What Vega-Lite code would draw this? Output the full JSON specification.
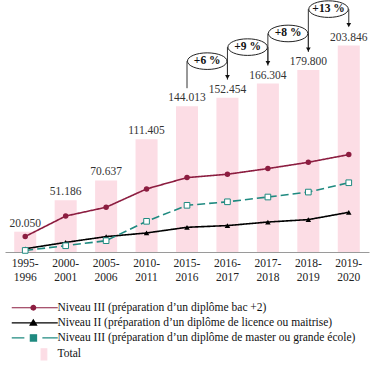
{
  "$schema": "https://vega.github.io/schema/vega-lite/v6.json",
  "width": 364,
  "height": 252,
  "autosize": {"type": "none"},
  "padding": {"left": 5, "top": 0, "right": 11, "bottom": 116},
  "background": "white",
  "config": {
    "view": {"stroke": null},
    "locale": {"number": {"decimal": ",", "thousands": ".", "grouping": [3], "currency": ["", " €"]}},
    "font": "Liberation Serif",
    "legend": {
      "orient": "none", "legendX": 24, "legendY": 302, "direction": "vertical",
      "symbolSize": 64, "symbolStrokeWidth": 1.2, "labelOffset": 17, "labelFont": "Liberation Serif", "labelFontSize": 11.5,
      "labelColor": "#111", "labelLimit": 400, "rowPadding": 2.1, "padding": 0
    }
  },
  "datasets": {
    "totals": [
      {"period": "1995-1996", "total": 20050},
      {"period": "2000-2001", "total": 51186},
      {"period": "2005-2006", "total": 70637},
      {"period": "2010-2011", "total": 111405},
      {"period": "2015-2016", "total": 144013},
      {"period": "2016-2017", "total": 152454},
      {"period": "2017-2018", "total": 166304},
      {"period": "2018-2019", "total": 179800},
      {"period": "2019-2020", "total": 203846}
    ],
    "series": [
      {"period": "1995-1996", "serie": "Niveau III (préparation d’un diplôme bac +2)", "value": 15300},
      {"period": "2000-2001", "serie": "Niveau III (préparation d’un diplôme bac +2)", "value": 35500},
      {"period": "2005-2006", "serie": "Niveau III (préparation d’un diplôme bac +2)", "value": 44200},
      {"period": "2010-2011", "serie": "Niveau III (préparation d’un diplôme bac +2)", "value": 62300},
      {"period": "2015-2016", "serie": "Niveau III (préparation d’un diplôme bac +2)", "value": 73500},
      {"period": "2016-2017", "serie": "Niveau III (préparation d’un diplôme bac +2)", "value": 76800},
      {"period": "2017-2018", "serie": "Niveau III (préparation d’un diplôme bac +2)", "value": 82400},
      {"period": "2018-2019", "serie": "Niveau III (préparation d’un diplôme bac +2)", "value": 88600},
      {"period": "2019-2020", "serie": "Niveau III (préparation d’un diplôme bac +2)", "value": 96200},
      {"period": "1995-1996", "serie": "Niveau II (préparation d’un diplôme de licence ou maitrise)", "value": 3200},
      {"period": "2000-2001", "serie": "Niveau II (préparation d’un diplôme de licence ou maitrise)", "value": 9500},
      {"period": "2005-2006", "serie": "Niveau II (préparation d’un diplôme de licence ou maitrise)", "value": 15200},
      {"period": "2010-2011", "serie": "Niveau II (préparation d’un diplôme de licence ou maitrise)", "value": 18800},
      {"period": "2015-2016", "serie": "Niveau II (préparation d’un diplôme de licence ou maitrise)", "value": 24400},
      {"period": "2016-2017", "serie": "Niveau II (préparation d’un diplôme de licence ou maitrise)", "value": 26100},
      {"period": "2017-2018", "serie": "Niveau II (préparation d’un diplôme de licence ou maitrise)", "value": 29600},
      {"period": "2018-2019", "serie": "Niveau II (préparation d’un diplôme de licence ou maitrise)", "value": 32000},
      {"period": "2019-2020", "serie": "Niveau II (préparation d’un diplôme de licence ou maitrise)", "value": 39200},
      {"period": "1995-1996", "serie": "Niveau III (préparation d’un diplôme de master ou grande école)", "value": 1550},
      {"period": "2000-2001", "serie": "Niveau III (préparation d’un diplôme de master ou grande école)", "value": 6200},
      {"period": "2005-2006", "serie": "Niveau III (préparation d’un diplôme de master ou grande école)", "value": 11200},
      {"period": "2010-2011", "serie": "Niveau III (préparation d’un diplôme de master ou grande école)", "value": 30300},
      {"period": "2015-2016", "serie": "Niveau III (préparation d’un diplôme de master ou grande école)", "value": 46100},
      {"period": "2016-2017", "serie": "Niveau III (préparation d’un diplôme de master ou grande école)", "value": 49600},
      {"period": "2017-2018", "serie": "Niveau III (préparation d’un diplôme de master ou grande école)", "value": 54300},
      {"period": "2018-2019", "serie": "Niveau III (préparation d’un diplôme de master ou grande école)", "value": 59200},
      {"period": "2019-2020", "serie": "Niveau III (préparation d’un diplôme de master ou grande école)", "value": 68400}
    ],
    "ann": [
      {"from": "2015-2016", "to": "2016-2017", "from_total": 144013, "to_total": 152454, "label": "+6 %"},
      {"from": "2016-2017", "to": "2017-2018", "from_total": 152454, "to_total": 166304, "label": "+9 %"},
      {"from": "2017-2018", "to": "2018-2019", "from_total": 166304, "to_total": 179800, "label": "+8 %"},
      {"from": "2018-2019", "to": "2019-2020", "from_total": 179800, "to_total": 203846, "label": "+13 %"}
    ]
  },
  "layer": [
    {
      "data": {"name": "totals"},
      "mark": {"type": "bar", "color": "#fcdde5"},
      "encoding": {
        "x": {
          "field": "period", "type": "nominal", "title": null,
          "scale": {
            "domain": ["1995-1996", "2000-2001", "2005-2006", "2010-2011", "2015-2016", "2016-2017", "2017-2018", "2018-2019", "2019-2020"],
            "paddingInner": 0.455, "paddingOuter": 0.2275
          },
          "axis": {
            "labelAngle": 0, "ticks": false, "labelPadding": 5.5,
            "labelExpr": "[slice(datum.label, 0, 5), slice(datum.label, 5)]",
            "labelLineHeight": 13.5, "labelFont": "Liberation Serif", "labelFontSize": 11.5,
            "labelColor": "#222", "domainColor": "#9a9a9a", "domainWidth": 1, "grid": false
          }
        },
        "y": {"field": "total", "type": "quantitative", "scale": {"domain": [0, 248900], "nice": false, "zero": true}, "axis": null},
        "color": {
          "datum": "Total", "type": "nominal",
          "scale": {
            "domain": ["Niveau III (préparation d’un diplôme bac +2)", "Niveau II (préparation d’un diplôme de licence ou maitrise)", "Niveau III (préparation d’un diplôme de master ou grande école)", "Total"],
            "range": ["#8c1d40", "#000000", "#1f8a80", "#fcdde5"]
          },
          "legend": {
            "title": null,
            "encode": {
              "symbols": {
                "update": {
                  "shape": {"signal": "test(/bac/, datum.value) ? 'M-5.75,0H5.75M0.23,0A0.58,0.58,0,1,1,-0.93,0A0.58,0.58,0,1,1,0.23,0Z' : test(/licence/, datum.value) ? 'M-5.75,0H5.75M-0.35,-0.75L0.45,0.55L-1.15,0.55Z' : test(/master/, datum.value) ? 'M-5.75,0H-2.59M1.9,0H5.75M-1.1,-0.78H0.45V0.78H-1.1Z' : 'M1.6,-1.32H3V1.44H1.6Z'"},
                  "fill": {"signal": "test(/bac/, datum.value) ? '#8c1d40' : test(/licence/, datum.value) ? '#000000' : test(/master/, datum.value) ? '#ffffff' : '#fcdde5'"},
                  "stroke": {"signal": "test(/bac/, datum.value) ? '#8c1d40' : test(/licence/, datum.value) ? '#000000' : test(/master/, datum.value) ? '#1f8a80' : 'transparent'"},
                  "strokeDash": {"value": [1, 0]},
                  "opacity": {"value": 1},
                  "fillOpacity": {"value": 1},
                  "strokeOpacity": {"value": 1}
                }
              }
            }
          }
        }
      }
    },
    {
      "data": {"name": "totals"},
      "mark": {"type": "text", "baseline": "alphabetic", "dy": -5, "font": "Liberation Serif", "fontSize": 11.5, "color": "#333"},
      "encoding": {
        "x": {"field": "period", "type": "nominal", "title": null},
        "y": {"field": "total", "type": "quantitative", "axis": null},
        "text": {"field": "total", "type": "quantitative", "format": ","}
      }
    },
    {
      "data": {"name": "series"},
      "mark": {"type": "line", "strokeWidth": 1.6},
      "encoding": {
        "x": {"field": "period", "type": "nominal", "title": null},
        "y": {"field": "value", "type": "quantitative", "axis": null},
        "color": {"field": "serie", "type": "nominal", "legend": {"title": null}},
        "strokeDash": {
          "field": "serie", "type": "nominal", "legend": null,
          "scale": {
            "domain": ["Niveau III (préparation d’un diplôme bac +2)", "Niveau II (préparation d’un diplôme de licence ou maitrise)", "Niveau III (préparation d’un diplôme de master ou grande école)"],
            "range": [[1, 0], [1, 0], [8, 4]]
          }
        },
        "order": {"field": "period"}
      }
    },
    {
      "data": {"name": "series"},
      "transform": [{"filter": "!test(/master/, datum.serie)"}],
      "mark": {"type": "point", "filled": true, "size": 30, "opacity": 1},
      "encoding": {
        "x": {"field": "period", "type": "nominal", "title": null},
        "y": {"field": "value", "type": "quantitative", "axis": null},
        "color": {"field": "serie", "type": "nominal", "legend": {"title": null}},
        "shape": {
          "field": "serie", "type": "nominal", "legend": null,
          "scale": {
            "domain": ["Niveau III (préparation d’un diplôme bac +2)", "Niveau II (préparation d’un diplôme de licence ou maitrise)"],
            "range": ["circle", "triangle-up"]
          }
        }
      }
    },
    {
      "data": {"name": "series"},
      "transform": [{"filter": "test(/master/, datum.serie)"}],
      "mark": {"type": "point", "shape": "square", "size": 32, "fill": "#ffffff", "stroke": "#1f8a80", "strokeWidth": 1, "opacity": 1, "fillOpacity": 1},
      "encoding": {
        "x": {"field": "period", "type": "nominal", "title": null},
        "y": {"field": "value", "type": "quantitative", "axis": null}
      }
    },
    {
      "data": {"name": "ann"},
      "mark": {"type": "rule", "yOffset": -18, "y2Offset": -36.5, "color": "#333", "strokeWidth": 1},
      "encoding": {
        "x": {"field": "from", "type": "nominal", "title": null},
        "y": {"field": "from_total", "type": "quantitative", "axis": null},
        "y2": {"field": "to_total"}
      }
    },
    {
      "data": {"name": "ann"},
      "mark": {"type": "rule", "yOffset": -22, "y2Offset": -36.5, "color": "#333", "strokeWidth": 1},
      "encoding": {
        "x": {"field": "to", "type": "nominal", "title": null},
        "y": {"field": "to_total", "type": "quantitative", "axis": null},
        "y2": {"field": "to_total"}
      }
    },
    {
      "data": {"name": "ann"},
      "mark": {"type": "point", "shape": "triangle-down", "filled": true, "size": 22, "color": "#111", "opacity": 1, "yOffset": -20.5},
      "encoding": {
        "x": {"field": "to", "type": "nominal", "title": null},
        "y": {"field": "to_total", "type": "quantitative", "axis": null}
      }
    },
    {
      "data": {"name": "ann"},
      "mark": {"type": "point", "shape": "M-1,0A1,0.42,0,1,1,1,0A1,0.42,0,1,1,-1,0Z", "size": 1560, "fill": "#ffffff", "stroke": "#222", "strokeWidth": 1, "opacity": 1, "fillOpacity": 1, "yOffset": -36.5},
      "encoding": {
        "x": {"field": "from", "type": "nominal", "title": null, "bandPosition": 1.417},
        "y": {"field": "to_total", "type": "quantitative", "axis": null}
      }
    },
    {
      "data": {"name": "ann"},
      "mark": {"type": "text", "baseline": "middle", "fontWeight": "bold", "font": "Liberation Serif", "fontSize": 11.5, "color": "#111", "yOffset": -36.5},
      "encoding": {
        "x": {"field": "from", "type": "nominal", "title": null, "bandPosition": 1.417},
        "y": {"field": "to_total", "type": "quantitative", "axis": null},
        "text": {"field": "label"}
      }
    }
  ]
}
